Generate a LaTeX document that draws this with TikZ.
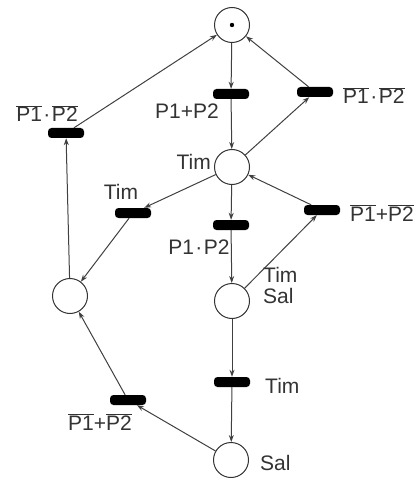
\documentclass[tikz,border=0pt]{standalone}
\usepackage{fontspec}
\setmainfont{Liberation Sans}
\usetikzlibrary{arrows.meta}

% negated signal: text with a bar above it
\newcommand{\negsig}[1]{$\overline{\mbox{#1}}$}
% product dot with a little room on both sides
\newcommand{\pdot}{\kern1.5pt·\kern1.5pt}

\begin{document}
\begin{tikzpicture}[x=1pt,y=-1pt,
  place/.style={circle,draw=black!80,line width=1pt,minimum size=35pt,inner sep=0pt},
  trans/.style={rectangle,fill=black,rounded corners=3.5pt,minimum width=36pt,minimum height=10pt,inner sep=0pt},
  arc/.style={draw=black!75,line width=1pt,-{Stealth[length=7pt,width=5pt]}},
  lbl/.style={font=\fontsize{21}{21}\selectfont,text=black!80,inner sep=0pt}]
\useasboundingbox (0,0) rectangle (418,478);

% places
\node[place] (p0) at (232,25) {};
\fill[black] (p0.center) circle (2.2pt);
\node[place] (p1) at (232,167) {};
\node[place] (p2) at (70,296) {};
\node[place] (p3) at (232,301) {};
\node[place] (p4) at (231,460) {};

% transitions
\node[trans] (t1) at (231,94) {};
\node[trans] (t2) at (315,92) {};
\node[trans] (t3) at (66,133) {};
\node[trans] (t4) at (133,213) {};
\node[trans] (t5) at (231,225) {};
\node[trans] (t6) at (322,210) {};
\node[trans] (t7) at (232,382) {};
\node[trans] (t8) at (128,400) {};

% labels
\node[lbl,anchor=base] (l1) at (187,119) {P1+P2};
\node[lbl,anchor=base west] (l2) at (343,104) {\negsig{P1}\pdot\negsig{P2}};
\node[lbl,anchor=base] (l3) at (47,122) {\negsig{P1}\pdot\negsig{P2}};
\node[lbl,anchor=base east] (l4) at (211,170) {Tim};
\node[lbl,anchor=base] (l5) at (121,199) {Tim};
\node[lbl,anchor=base] (l6) at (199,254) {P1\pdot P2};
\node[lbl,anchor=base west] (l7) at (350,221) {\negsig{P1}+\negsig{P2}};
\node[lbl,anchor=base west,align=left] (l8) at (263,303) {Tim\\[-0.5pt]Sal};
\node[lbl,anchor=base west] (l9) at (265,393) {Tim};
\node[lbl,anchor=base] (l10) at (100,430) {\negsig{P1}+\negsig{P2}};
\node[lbl,anchor=base west] (l11) at (260,470) {Sal};

% arcs
\draw[arc] (p0) -- (t1);
\draw[arc] (t1) -- (p1);
\draw[arc] (p1) -- (t2);
\draw[arc] (t2) -- (p0);
\draw[arc] (p2) -- (t3);
\draw[arc] (t3) -- (p0);
\draw[arc] (p1) -- (t4);
\draw[arc] (t4) -- (p2);
\draw[arc] (p1) -- (t5);
\draw[arc] (t5) -- (p3);
\draw[arc] (p3) -- (t6);
\draw[arc] (t6) -- (p1);
\draw[arc] (p3) -- (t7);
\draw[arc] (t7) -- (p4);
\draw[arc] (p4) -- (t8);
\draw[arc] (t8) -- (p2);
\end{tikzpicture}
\end{document}
